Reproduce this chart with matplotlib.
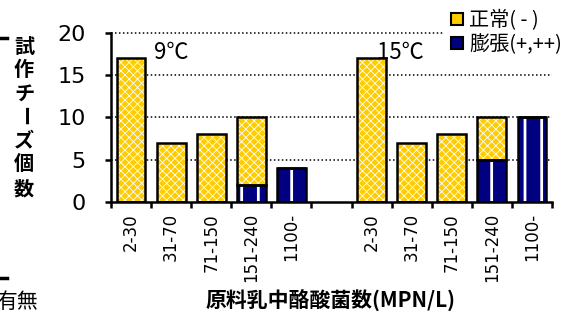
import matplotlib
matplotlib.use("Agg")
import matplotlib.pyplot as plt
from matplotlib.patches import Patch
import numpy as np

plt.rcParams['font.family'] = ['Noto Sans CJK JP', 'DejaVu Sans']

categories = ["2-30", "31-70", "71-150", "151-240", "1100-"]
normal_9 = [17, 7, 8, 8, 0]
swollen_9 = [0, 0, 0, 2, 4]
normal_15 = [17, 7, 8, 5, 0]
swollen_15 = [0, 0, 0, 5, 10]
group_labels = ["9℃", "15℃"]
legend_labels = ["正常( - )", "膨張(+,++)"]
ylabel_text = "試作チーズ個数"
xlabel_text = "原料乳中酪酸菌数(MPN/L)"

YELLOW = "#FFCC00"
NAVY = "#000080"

fig = plt.figure(figsize=(5.82, 3.14), dpi=100)
ax = fig.add_axes([111/582, 1-202/314, (552-111)/582, (202-33)/314])

pos = np.array(list(range(5)) + list(range(6, 11)))
normal = np.array(normal_9 + normal_15)
swollen = np.array(swollen_9 + swollen_15)
width = 0.72

# gridlines
for yv in [5, 10, 15, 20]:
    ax.axhline(yv, color="black", lw=1.1, ls=(0, (1, 1.6)), zorder=0, clip_on=False)

# swollen (bottom)
with plt.rc_context({'hatch.linewidth': 2.0}):
    b1 = ax.bar(pos, swollen, width, color=NAVY, edgecolor="white", lw=0, hatch="|", zorder=2)
    for p in b1:
        try:
            p.set_hatch_linewidth(2.0)
        except Exception:
            pass
ax.bar(pos, swollen, width, facecolor="none", edgecolor="black", lw=1.8, zorder=3)
# normal (top)
with plt.rc_context({'hatch.linewidth': 0.6}):
    b2 = ax.bar(pos, normal, width, bottom=swollen, color=YELLOW, edgecolor="white", lw=0, hatch="xxxx", zorder=2)
    for p in b2:
        try:
            p.set_hatch_linewidth(0.6)
        except Exception:
            pass
ax.bar(pos, normal, width, bottom=swollen, facecolor="none", edgecolor="black", lw=1.8, zorder=3)

ax.set_xlim(-0.5, 10.5)
ax.set_ylim(0, 20)
ax.set_yticks([0, 5, 10, 15, 20])
ax.set_yticklabels(["0", "5", "10", "15", "20"], fontsize=16, family="DejaVu Sans")
ax.set_xticks(pos)
ax.set_xticklabels(categories * 2, rotation=90, fontsize=12, family="DejaVu Sans")
ax.set_xticks(np.arange(-0.5, 10.6, 1), minor=True)
ax.tick_params(axis="x", which="major", length=0, pad=8)
ax.tick_params(axis="x", which="minor", length=4, width=1.8, direction="out")
ax.tick_params(axis="y", length=4, width=1.8, direction="out", pad=14)

for s in ["top", "right"]:
    ax.spines[s].set_visible(False)
for s in ["left", "bottom"]:
    ax.spines[s].set_linewidth(1.8)

ax.text(0.57, 17.75, group_labels[0], fontsize=16, va="center", ha="left", zorder=4)
ax.text(6.13, 17.75, group_labels[1], fontsize=16, va="center", ha="left", zorder=4)

handles = [Patch(facecolor=YELLOW, edgecolor="black", lw=1.5),
           Patch(facecolor=NAVY, edgecolor="black", lw=1.5)]
leg = fig.legend(handles, legend_labels, loc="upper left",
                 bbox_to_anchor=(443/582, 1-2/314), fontsize=14.5,
                 handlelength=0.6, handleheight=0.6, handletextpad=0.3,
                 labelspacing=0.15, borderpad=0.4, borderaxespad=0,
                 frameon=True, fancybox=False, framealpha=1,
                 facecolor="white", edgecolor="none")

# vertical y label
ys = [46, 69, 93, 116, 140, 164, 189]
for ch, yp in zip(ylabel_text, ys):
    rot = -90 if ch == "ー" else 0
    fig.text(24/582, 1-yp/314, ch, fontsize=14.5, fontweight="bold",
             ha="center", va="center", rotation=rot)

fig.text(331/582, 1-301/314, xlabel_text, fontsize=15, fontweight="bold",
         ha="center", va="center")

# partial elements cut at left edge
fig.text(38/582, 1-302/314, "有無", fontsize=15, ha="right", va="center")
fig.add_artist(plt.Line2D([0, 7/582], [1-38/314, 1-38/314], color="black", lw=2.5))
fig.add_artist(plt.Line2D([0, 7/582], [1-278/314, 1-278/314], color="black", lw=2.5))

fig.savefig("out.png", dpi=100)
